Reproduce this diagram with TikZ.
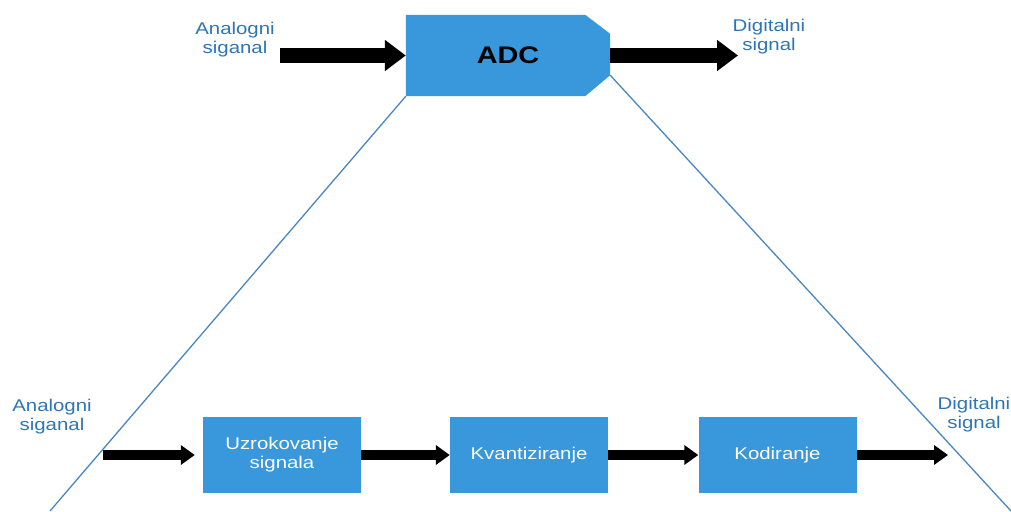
\documentclass[tikz,border=0pt]{standalone}
\usepackage{fontspec}
\setmainfont{Liberation Sans}[FakeStretch=1.2]
\usetikzlibrary{arrows.meta,backgrounds}
\definecolor{boxblue}{RGB}{56,152,219}
\definecolor{labblue}{RGB}{46,117,182}
\definecolor{lineblue}{RGB}{74,134,192}

\begin{document}
\begin{tikzpicture}[x=1pt,y=-1pt,
  lab/.style={text=labblue,align=center,inner sep=0pt,font=\fontsize{17}{19}\selectfont},
  stage/.style={fill=boxblue,text=white,align=center,minimum width=158pt,minimum height=76pt,font=\fontsize{17}{19}\selectfont},
  fat/.style={line width=15pt,-{Triangle[length=21pt,width=30pt]}},
  slim/.style={line width=10pt,-{Triangle[length=14pt,width=19pt]}}]

  \useasboundingbox (0,0) rectangle (1011,511);

  % top: the ADC block
  \node[minimum width=204pt,minimum height=81pt,font=\bfseries\fontsize{24}{26}\selectfont] (adc) at (508,55.5) {ADC};
  \begin{scope}[on background layer]
    \fill[boxblue] (adc.south west) -- (adc.north west) -- ([xshift=-25pt]adc.north east)
      -- ([yshift=-19pt]adc.north east) -- ([yshift=21pt]adc.south east)
      -- ([xshift=-25pt]adc.south east) -- cycle;
  \end{scope}
  \node[lab] (in1) at (235,40) {Analogni\\siganal};
  \node[lab] (out1) at (769,37) {Digitalni\\signal};
  \coordinate (s1) at (280,55.5);
  \coordinate (e1) at (738,55.5);

  \path (s1) edge[fat] (adc.west)
   (adc.east) edge[fat] (e1);

  % zoom lines
  \coordinate (bl) at (50,511);
  \coordinate (br) at (1011,511);
  \draw[lineblue,line width=1.3pt] (adc.south west) -- (bl);
  \draw[lineblue,line width=1.3pt] ([yshift=21pt]adc.south east) -- (br);

  % bottom: the three stages
  \node[lab] (in2) at (52,417) {Analogni\\siganal};
  \node[stage] (u) at (282,455) {Uzrokovanje\\signala};
  \node[stage] (k) at (529,455) {Kvantiziranje};
  \node[stage] (c) at (777.5,455) {Kodiranje};
  \node[lab] (out2) at (974,415) {Digitalni\\signal};
  \coordinate (s2) at (103,455);
  \coordinate (e2) at (948,455);

  \path (s2) edge[slim,shorten >=8pt] (u.west)
   (u) edge[slim] (k)
   (k) edge[slim] (c)
   (c) edge[slim] (e2);
\end{tikzpicture}
\end{document}
